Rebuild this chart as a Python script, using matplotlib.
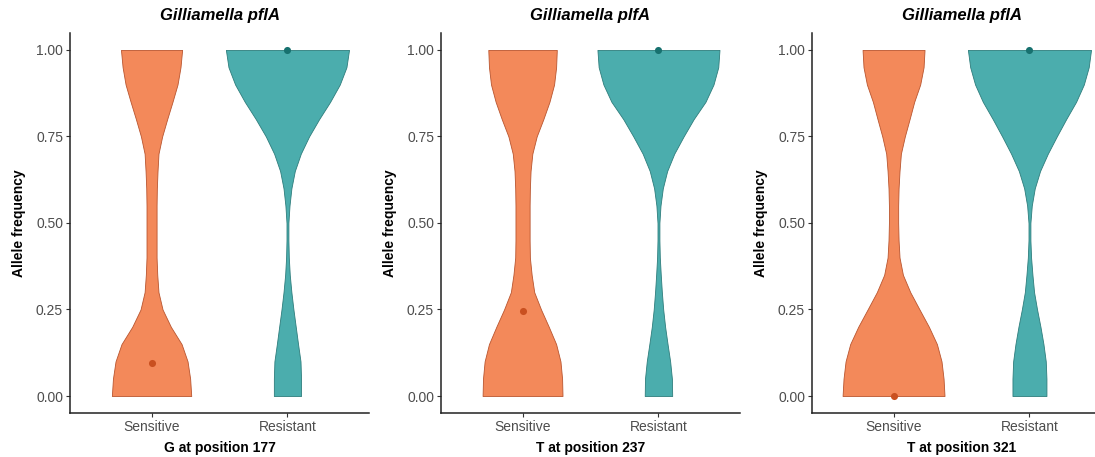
import matplotlib
matplotlib.use("Agg")
import matplotlib.pyplot as plt
import numpy as np

plt.rcParams["font.family"] = ["Liberation Sans", "DejaVu Sans"]

GROUPS = ["Sensitive", "Resistant"]
TITLES = ["Gilliamella pflA", "Gilliamella plfA", "Gilliamella pflA"]
XLABELS = ["G at position 177", "T at position 237", "T at position 321"]
YTICKS = [0.00, 0.25, 0.50, 0.75, 1.00]

# allele frequency levels at which the violin half-widths were read
Y_LEVELS = [0.00, 0.05, 0.10, 0.15, 0.20, 0.25, 0.30, 0.35, 0.40, 0.45, 0.50,
            0.55, 0.60, 0.65, 0.70, 0.75, 0.80, 0.85, 0.90, 0.95, 1.00]

# violin half-widths (x units) per panel
SENS_177 = [0.292, 0.284, 0.265, 0.221, 0.142, 0.081, 0.051, 0.042, 0.037, 0.037, 0.037,
            0.037, 0.039, 0.044, 0.051, 0.078, 0.115, 0.154, 0.191, 0.213, 0.225]
RES_177 = [0.100, 0.100, 0.096, 0.078, 0.061, 0.044, 0.029, 0.017, 0.010, 0.007, 0.007,
           0.015, 0.029, 0.054, 0.098, 0.159, 0.233, 0.314, 0.385, 0.434, 0.453]
SENS_237 = [0.294, 0.291, 0.279, 0.247, 0.193, 0.136, 0.086, 0.067, 0.054, 0.052, 0.052,
            0.052, 0.054, 0.059, 0.072, 0.104, 0.153, 0.198, 0.232, 0.247, 0.252]
RES_237 = [0.101, 0.099, 0.086, 0.067, 0.049, 0.035, 0.025, 0.017, 0.010, 0.007, 0.007,
           0.015, 0.032, 0.064, 0.116, 0.185, 0.259, 0.346, 0.405, 0.440, 0.449]
SENS_321 = [0.375, 0.368, 0.353, 0.319, 0.260, 0.191, 0.123, 0.069, 0.044, 0.037, 0.034,
            0.034, 0.037, 0.044, 0.054, 0.083, 0.118, 0.152, 0.196, 0.221, 0.228]
RES_321 = [0.125, 0.125, 0.120, 0.103, 0.081, 0.056, 0.034, 0.022, 0.012, 0.007, 0.007,
           0.017, 0.039, 0.078, 0.135, 0.201, 0.270, 0.343, 0.400, 0.436, 0.453]

# medians (Sensitive, Resistant)
MED_177 = [0.094, 1.00]
MED_237 = [0.246, 1.00]
MED_321 = [0.00, 1.00]

FILL = ["#F3895A", "#4BADAD"]
EDGE = ["#B9552F", "#2E7D7C"]
POINT = ["#C95020", "#17716F"]

panels = [
    (SENS_177, RES_177, MED_177),
    (SENS_237, RES_237, MED_237),
    (SENS_321, RES_321, MED_321),
]

fig = plt.figure(figsize=(10.95, 4.57), dpi=100)
lefts = [70 / 1095, 441 / 1095, 812 / 1095]
width = 299 / 1095

for i, (sens, res, med) in enumerate(panels):
    ax = fig.add_axes([lefts[i], 0.0956, width, 0.833])
    y = np.array(Y_LEVELS)
    for j, w in enumerate([sens, res]):
        pos = j + 1
        w = np.array(w)
        ax.fill_betweenx(y, pos - w, pos + w, facecolor=FILL[j],
                         edgecolor=EDGE[j], linewidth=0.6, zorder=2)
        ax.scatter([pos], [med[j]], s=26, color=POINT[j], zorder=3,
                   linewidths=0)

    ax.set_xlim(0.4, 2.6)
    ax.set_ylim(-0.05, 1.05)
    ax.set_xticks([1, 2])
    ax.set_xticklabels(GROUPS)
    ax.set_yticks(YTICKS)
    ax.set_yticklabels([f"{v:.2f}" for v in YTICKS])
    ax.tick_params(axis="both", labelsize=10, labelcolor="#4D4D4D",
                   color="#333333", length=3, width=0.8, pad=2)
    for side in ["top", "right"]:
        ax.spines[side].set_visible(False)
    for side in ["left", "bottom"]:
        ax.spines[side].set_color("#222222")
        ax.spines[side].set_linewidth(1.1)

    ax.set_title(TITLES[i], fontsize=12, fontweight="bold", fontstyle="italic",
                 pad=9)
    ax.set_xlabel(XLABELS[i], fontsize=10, fontweight="bold", labelpad=5)
    ax.set_ylabel("Allele frequency", fontsize=10, fontweight="bold", labelpad=7)

fig.savefig("out.png", dpi=100)
